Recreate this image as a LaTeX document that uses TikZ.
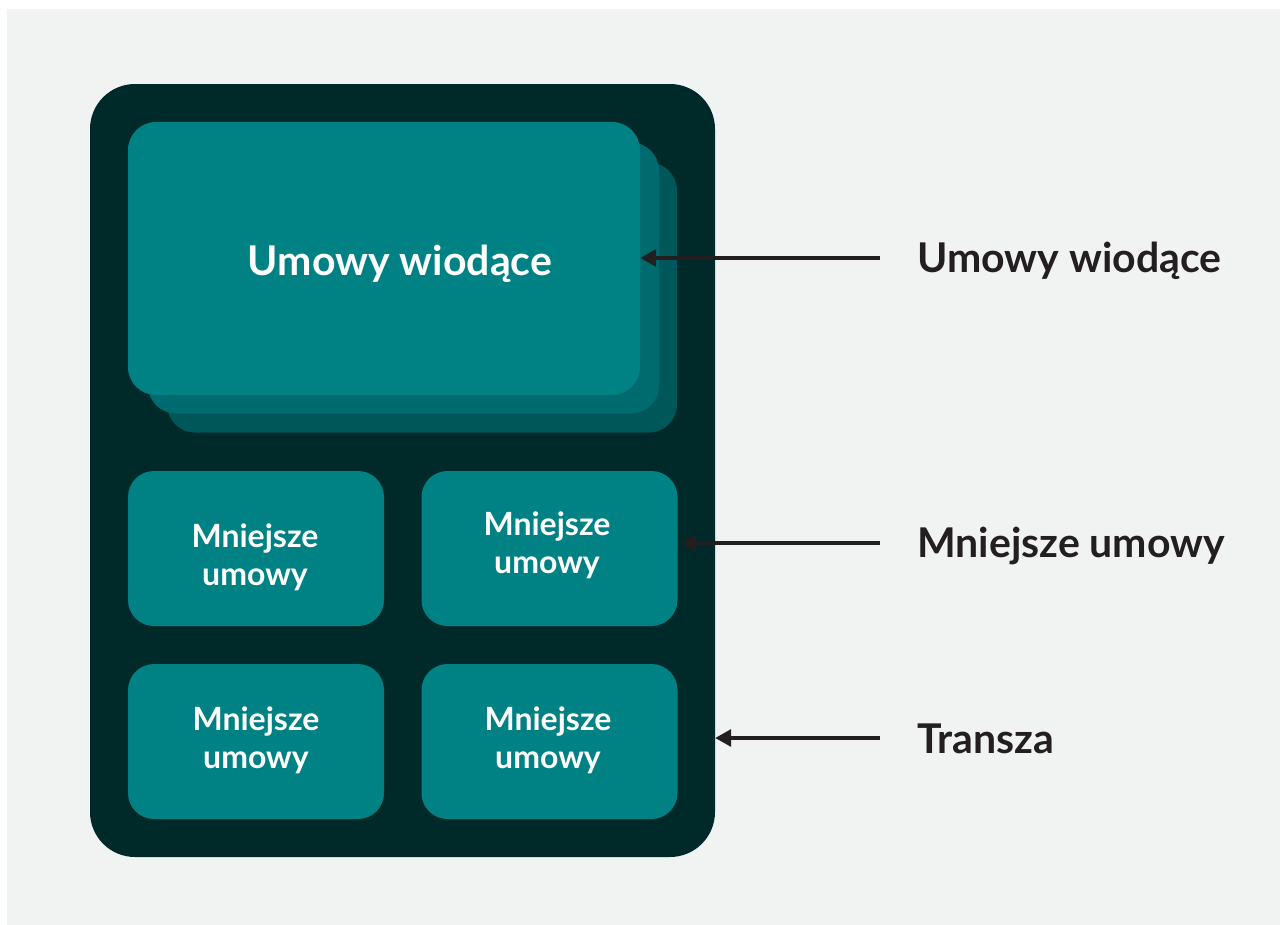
\documentclass[tikz,border=0pt]{standalone}
\usepackage{fontspec}
\setmainfont{Lato}
\usetikzlibrary{arrows.meta}
\definecolor{bgwhite}{HTML}{FFFFFF}
\definecolor{bggray}{HTML}{F1F2F2}
\definecolor{darkbox}{HTML}{00292A}
\definecolor{teal1}{HTML}{008285}
\definecolor{teal2}{HTML}{006B6E}
\definecolor{teal3}{HTML}{005759}
\definecolor{arrowc}{HTML}{231F20}
\tikzset{
  card/.style={fill=teal1, draw=none, rounded corners=28pt, inner sep=0pt},
  smallcard/.style={fill=teal1, draw=none, rounded corners=26pt, inner sep=0pt, minimum width=256pt, minimum height=155pt},
  cardtext/.style={text=white, font=\fontsize{32}{38}\selectfont\bfseries, align=center, inner sep=0pt},
  bigtext/.style={text=white, font=\fontsize{41}{48}\selectfont\bfseries, inner sep=0pt},
  sidelabel/.style={text=arrowc, font=\fontsize{41}{48}\selectfont\bfseries, anchor=west, inner sep=0pt},
  pointer/.style={draw=arrowc, line width=3.2pt, -{Triangle[length=16pt,width=17pt]}}
}
\begin{document}
\begin{tikzpicture}[x=1pt,y=-1pt]
\useasboundingbox (0,0) rectangle (1280,924);
\fill[bgwhite] (-5,-5) rectangle (1290,934);
\fill[bggray] (7,9) rectangle (1290,934);
% outer transza box
\node[fill=darkbox, rounded corners=45pt, inner sep=0pt, minimum width=625pt, minimum height=773pt] (outer) at (402.5,470.5) {};
% stacked lead cards
\node[card, fill=teal3, minimum width=510pt, minimum height=270pt] (lead3) at (422,297.5) {};
\node[card, fill=teal2, minimum width=511pt, minimum height=271pt] (lead2) at (403.5,278) {};
\node[card, minimum width=512pt, minimum height=273pt] (lead) at (384,258.5) {};
\node[bigtext] (leadtxt) at (400,264) {Umowy wiodące};
% small cards
\node[smallcard] (s11) at (256,548.5) {};
\node[smallcard] (s12) at (549.5,548.5) {};
\node[smallcard] (s21) at (256,741.5) {};
\node[smallcard] (s22) at (549.5,741.5) {};
\node[cardtext] (t11) at (255,557) {Mniejsze\\umowy};
\node[cardtext] (t12) at (547,545) {Mniejsze\\umowy};
\node[cardtext] (t21) at (256,740) {Mniejsze\\umowy};
\node[cardtext] (t22) at (548,740) {Mniejsze\\umowy};
% side labels
\node[sidelabel] (l1) at (917,261) {Umowy wiodące};
\node[sidelabel] (l2) at (917,546) {Mniejsze umowy};
\node[sidelabel] (l3) at (917,739) {Transza};
% arrows
\coordinate (a1) at (880,258);
\coordinate (a2) at (880,543);
\coordinate (a3) at (880,738);
\coordinate (tip2) at (680,543);
\draw[pointer] (a1) -- (a1 -| lead.east);
\draw[pointer] (a2) -- (tip2);
\draw[pointer] (a3) -- (a3 -| outer.east);
\end{tikzpicture}
\end{document}
